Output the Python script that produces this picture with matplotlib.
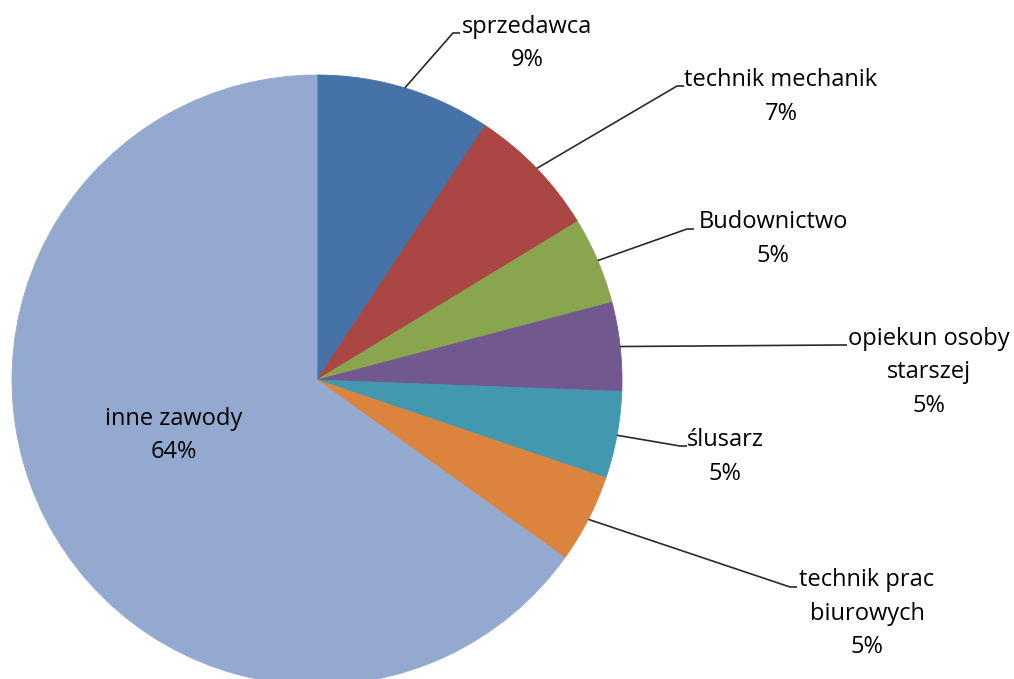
import matplotlib
matplotlib.use('Agg')
import matplotlib.pyplot as plt
import numpy as np

# ---- data ----
categories = ['sprzedawca', 'technik mechanik', 'Budownictwo', 'opiekun osoby starszej',
              'ślusarz', 'technik prac biurowych', 'inne zawody']
label_lines = [['sprzedawca'], ['technik mechanik'], ['Budownictwo'],
               ['opiekun osoby', 'starszej'], ['ślusarz'], ['technik prac', 'biurowych'],
               ['inne zawody']]
values = [9.3, 7.0, 4.6, 4.7, 4.6, 4.7, 65.1]
pct_labels = ['9%', '7%', '5%', '5%', '5%', '5%', '64%']
colors = ['#4572A7', '#AA4643', '#89A54E', '#71588F', '#4198AF', '#DB843D', '#93A9CF']

# ---- layout (pixel coordinates, origin top-left) ----
W, H = 1014, 679
pie_center_px = (317, 380)
pie_radius = 305
text_anchor_px = [(527, 33), (781, 86), (773, 228), (929, 345), (725, 446), (867, 586), (174, 425)]
elbow_px = [(453, 33), (677, 86), (687, 229), (840, 345), (680, 446), (790, 587), None]
tick_len = 7
line_pitch = 33.5

fig = plt.figure(figsize=(W / 100, H / 100), dpi=100)
ax = fig.add_axes([0, 0, 1, 1])

cx, cy = pie_center_px[0], H - pie_center_px[1]
wedges, _ = ax.pie(values, colors=colors, startangle=90, counterclock=False,
                   radius=pie_radius, center=(cx, cy),
                   wedgeprops=dict(linewidth=0.6))
for w in wedges:
    w.set_edgecolor(w.get_facecolor())

ax.set_xlim(0, W)
ax.set_ylim(0, H)
ax.set_aspect('equal')
ax.set_axis_off()

font = dict(family=['Open Sans', 'DejaVu Sans'], size=17, color='#000000')

for i, w in enumerate(wedges):
    lines = label_lines[i] + [pct_labels[i]]
    tx, ty = text_anchor_px[i]
    for k, ln in enumerate(lines):
        ax.text(tx, H - (ty + k * line_pitch), ln, ha='center', va='baseline', **font)
    if elbow_px[i] is not None:
        mid = np.deg2rad((w.theta1 + w.theta2) / 2)
        ex, ey = cx + pie_radius * np.cos(mid), cy + pie_radius * np.sin(mid)
        bx, by = elbow_px[i][0], H - elbow_px[i][1]
        ax.plot([ex, bx, bx + tick_len], [ey, by, by], color='#2a2a2a', lw=1.2,
                solid_capstyle='butt', zorder=3)

fig.savefig('out.png', dpi=100)
